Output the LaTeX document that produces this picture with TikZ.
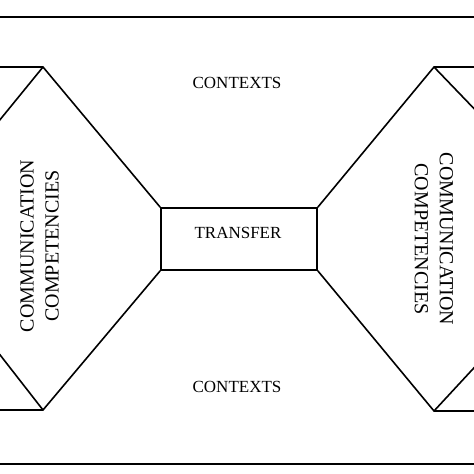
\documentclass[tikz,border=0pt]{standalone}
\usepackage{fontspec}
\setmainfont{Liberation Serif}
\begin{document}
\begin{tikzpicture}[x=1pt,y=-1pt,
  frame/.style={line width=1.9pt},
  edge/.style={line width=1.6pt, line join=miter},
  lbl/.style={font=\fontsize{17}{25}\selectfont, inner sep=0pt, align=center},
  vlbl/.style={font=\fontsize{20}{25}\selectfont, inner sep=0pt, align=center}]
\clip (0,0) rectangle (474,474);
\fill[white] (0,0) rectangle (474,474);
\draw[frame] (-10,17) rectangle (484,464);
% transfer box
\node[draw, line width=1.6pt, minimum width=156pt, minimum height=62pt, inner sep=0pt] (transfer) at (239,239) {};
\node[lbl] (ttext) at (238,233) {TRANSFER};
% apex coordinates
\coordinate (ltop) at (43,67);
\coordinate (lbot) at (43,410);
\coordinate (rtop) at (434,67);
\coordinate (rbot) at (434,411);
\coordinate (ltopE) at (-10,67);
\coordinate (lbotE) at (-10,410);
\coordinate (rtopE) at (484,67);
\coordinate (rbotE) at (484,411);
\coordinate (ltopD) at (-10,132);
\coordinate (lbotD) at (-10,342);
\coordinate (rtopD) at (484,119);
\coordinate (rbotD) at (484,357);
% left
\draw[edge] (ltopE) -- (ltop) -- (transfer.north west);
\draw[edge] (ltop) -- (ltopD);
\draw[edge] (lbotE) -- (lbot) -- (transfer.south west);
\draw[edge] (lbot) -- (lbotD);
% right
\draw[edge] (rtopE) -- (rtop) -- (transfer.north east);
\draw[edge] (rtop) -- (rtopD);
\draw[edge] (rbotE) -- (rbot) -- (transfer.south east);
\draw[edge] (rbot) -- (rbotD);
% texts
\node[lbl] (ctop) at (237,83) {CONTEXTS};
\node[lbl] (cbot) at (237,387) {CONTEXTS};
\node[vlbl, rotate=90] (lcomm) at (39.5,246) {COMMUNICATION\\COMPETENCIES};
\node[vlbl, rotate=-90] (rcomm) at (434,239) {COMMUNICATION\\COMPETENCIES};
\end{tikzpicture}
\end{document}
